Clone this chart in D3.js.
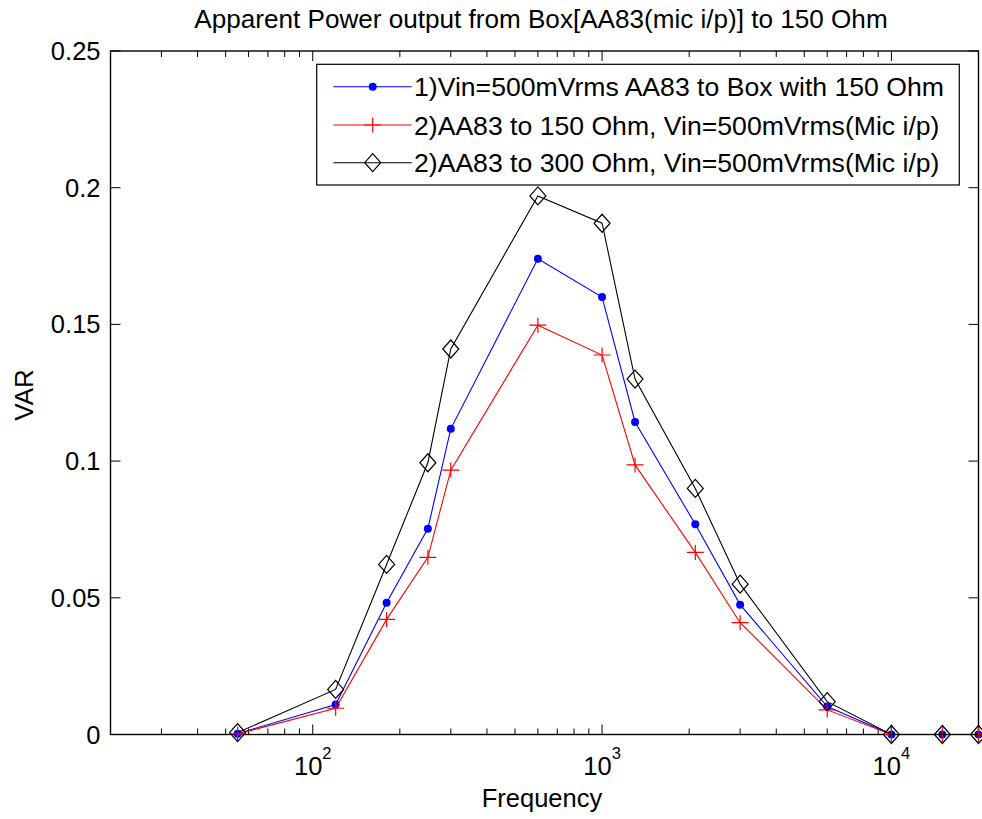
<!DOCTYPE html>
<html>
<head>
<meta charset="utf-8">
<script src="https://cdn.jsdelivr.net/npm/d3@7"></script>
<style>
  html, body { margin: 0; padding: 0; background: #fff; }
  text { font-family: "Liberation Sans", Arial, Helvetica, sans-serif; fill: #000; }
</style>
</head>
<body>
<svg id="chart" width="982" height="819"></svg>
<script>
// ---- data ----
const frequencies = [55, 120, 180, 250, 300, 600, 1000, 1300, 2100, 3000, 6000, 10000, 15000, 20000];
const seriesBox150 = [0.0003, 0.011, 0.0482, 0.0753, 0.1118, 0.174, 0.160, 0.1143, 0.0769, 0.0475, 0.0102, 0, 0, 0];
const series150 = [0.0002, 0.0096, 0.0421, 0.0648, 0.0967, 0.1497, 0.1388, 0.0986, 0.0666, 0.0409, 0.009, 0, 0, 0];
const series300 = [0.0007, 0.0165, 0.0622, 0.0994, 0.141, 0.197, 0.187, 0.130, 0.090, 0.055, 0.012, 0, 0, 0];
const seriesNames = [
  "1)Vin=500mVrms AA83 to Box with 150 Ohm",
  "2)AA83 to 150 Ohm, Vin=500mVrms(Mic i/p)",
  "2)AA83 to 300 Ohm, Vin=500mVrms(Mic i/p)"
];
const yTicks = [0, 0.05, 0.1, 0.15, 0.2, 0.25];
const yTickLabels = ["0", "0.05", "0.1", "0.15", "0.2", "0.25"];
const xMajorTicks = [100, 1000, 10000];
const xMajorExponents = ["2", "3", "4"];
const titleText = "Apparent Power output from Box[AA83(mic i/p)] to 150 Ohm";
const xLabel = "Frequency";
const yLabel = "VAR";

// ---- layout ----
const L = 110.5, R = 978.5, T = 51, B = 734.5;
const svg = d3.select("#chart");
const x = d3.scaleLog().domain([20, 20000]).range([L, R]);
const y = d3.scaleLinear().domain([0, 0.25]).range([B, T]);

const series = [
  { name: seriesNames[0], values: seriesBox150, color: "#0000ff", marker: "dot" },
  { name: seriesNames[1], values: series150, color: "#ff0000", marker: "plus" },
  { name: seriesNames[2], values: series300, color: "#000000", marker: "diamond" }
];

// minor ticks
const minorTicks = [];
for (let d = 10; d <= 10000; d *= 10) {
  for (let k = 2; k <= 9; k++) {
    const v = k * d;
    if (v > 20 && v < 20000 && ![100, 1000, 10000].includes(v)) minorTicks.push(v);
  }
}

const axisG = svg.append("g").attr("stroke", "#000").attr("stroke-width", 1);
minorTicks.forEach(v => {
  const px = x(v);
  axisG.append("line").attr("x1", px).attr("x2", px).attr("y1", B).attr("y2", B - 6);
  axisG.append("line").attr("x1", px).attr("x2", px).attr("y1", T).attr("y2", T + 6);
});
xMajorTicks.forEach(v => {
  const px = x(v);
  axisG.append("line").attr("x1", px).attr("x2", px).attr("y1", B).attr("y2", B - 10);
  axisG.append("line").attr("x1", px).attr("x2", px).attr("y1", T).attr("y2", T + 10);
});
yTicks.forEach(v => {
  const py = y(v);
  axisG.append("line").attr("x1", L).attr("x2", L + 10).attr("y1", py).attr("y2", py);
  axisG.append("line").attr("x1", R).attr("x2", R - 10).attr("y1", py).attr("y2", py);
});

// frame
svg.append("rect").attr("x", L).attr("y", T).attr("width", R - L).attr("height", B - T)
  .attr("fill", "none").attr("stroke", "#000").attr("stroke-width", 1.4);

// y tick labels
yTicks.forEach((v, i) => {
  svg.append("text").attr("x", 100.5).attr("y", y(v) + 9)
    .attr("text-anchor", "end").attr("font-size", 25.5).text(yTickLabels[i]);
});
// x tick labels 10^n
xMajorTicks.forEach((v, i) => {
  const t = svg.append("text").attr("x", x(v)).attr("y", 774.5)
    .attr("text-anchor", "middle").attr("font-size", 25.5);
  t.append("tspan").text("10");
  t.append("tspan").attr("font-size", 16.5).attr("dy", -16).text(xMajorExponents[i]);
});

// titles
svg.append("text").attr("x", 541).attr("y", 28.3).attr("text-anchor", "middle")
  .attr("font-size", 26.1).text(titleText);
svg.append("text").attr("x", 542).attr("y", 806.5).attr("text-anchor", "middle")
  .attr("font-size", 25.5).text(xLabel);
svg.append("text").attr("transform", "translate(33,395) rotate(-90)")
  .attr("text-anchor", "middle").attr("font-size", 26).text(yLabel);

// markers
function drawMarker(g, kind, color, cx, cy) {
  if (kind === "dot") {
    g.append("circle").attr("cx", cx).attr("cy", cy).attr("r", 4).attr("fill", color).attr("stroke", "none");
  } else if (kind === "plus") {
    g.append("path").attr("d", `M${cx - 8.5},${cy}H${cx + 8.5}M${cx},${cy - 7.5}V${cy + 7.5}`)
      .attr("stroke", color).attr("stroke-width", 1.2).attr("fill", "none");
  } else {
    g.append("path").attr("d", `M${cx},${cy - 9}L${cx + 8},${cy}L${cx},${cy + 9}L${cx - 8},${cy}Z`)
      .attr("stroke", color).attr("stroke-width", 1.2).attr("fill", "none");
  }
}

const line = d3.line().x(d => x(d[0])).y(d => y(d[1]));
const plotG = svg.append("g");
series.forEach(s => {
  const pts = frequencies.map((f, i) => [f, s.values[i]]);
  plotG.append("path").attr("d", line(pts)).attr("fill", "none")
    .attr("stroke", s.color).attr("stroke-width", 1.1);
  pts.forEach(p => drawMarker(plotG, s.marker, s.color, x(p[0]), y(p[1])));
});

// legend
const lg = svg.append("g");
lg.append("rect").attr("x", 316.7).attr("y", 64.3).attr("width", 959.3 - 316.7).attr("height", 185 - 64.3)
  .attr("fill", "#fff").attr("stroke", "#000").attr("stroke-width", 1.2);
const rowY = [86.7, 125, 162.7];
series.forEach((s, i) => {
  lg.append("line").attr("x1", 333.3).attr("x2", 411.7).attr("y1", rowY[i]).attr("y2", rowY[i])
    .attr("stroke", s.color).attr("stroke-width", 1.1);
  drawMarker(lg, s.marker, s.color, 372.7, rowY[i]);
  lg.append("text").attr("x", 414).attr("y", rowY[i] + 9.5).attr("font-size", 26.6).text(s.name);
});
</script>
</body>
</html>
